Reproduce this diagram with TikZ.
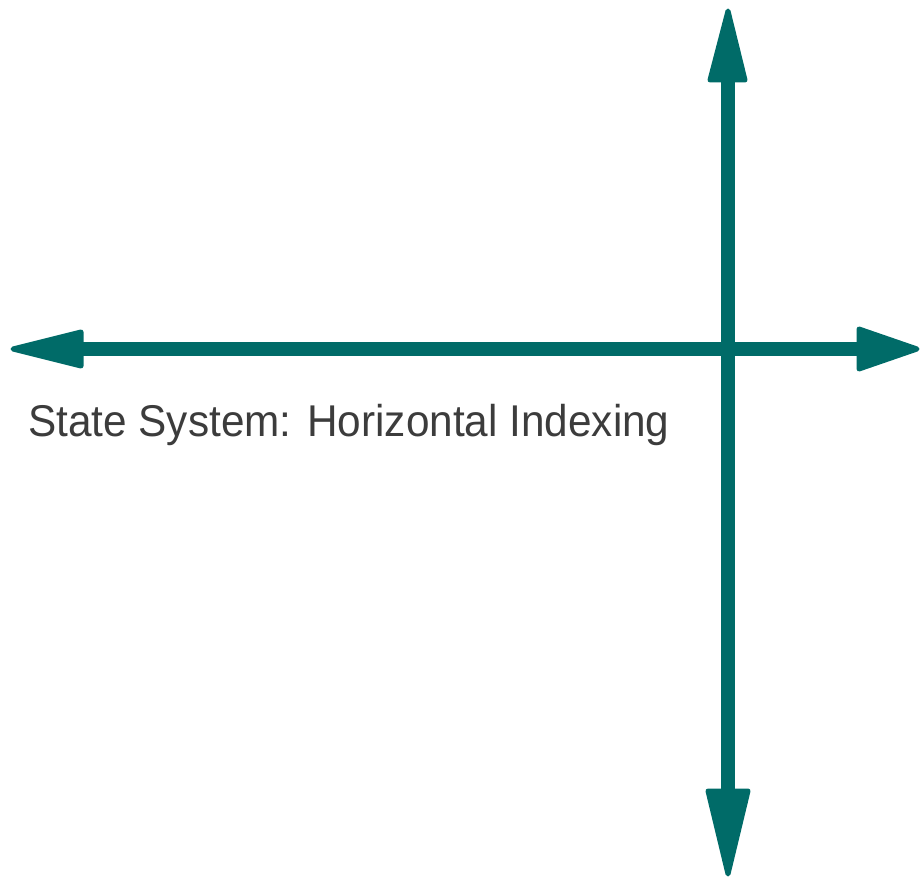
\documentclass[tikz,border=0pt]{standalone}
\usepackage{fontspec}
\setmainfont{Liberation Sans}
\definecolor{teal1}{HTML}{006B68}
\definecolor{txt}{HTML}{3C3C3C}
\begin{document}
\begin{tikzpicture}[x=1pt,y=-1pt,
  shaft/.style={draw=teal1,line width=14pt},
  head/.style={fill=teal1,draw=teal1,line width=5pt,line join=round},
  lbl/.style={font=\fontsize{44.5}{50}\selectfont,text=txt,inner sep=0pt,anchor=base west}]
\useasboundingbox (0,0) rectangle (921,877);
% named coordinates
\coordinate (L) at (13,349);
\coordinate (R) at (917,349);
\coordinate (T) at (728,11);
\coordinate (B) at (728,874);
\coordinate (Lb) at (81,349);
\coordinate (Rb) at (859,349);
\coordinate (Tb) at (728,80);
\coordinate (Bb) at (728,791);
% shafts
\draw[shaft] (Lb) -- (Rb);
\draw[shaft] (Tb) -- (Bb);
% heads
\draw[head] (L) -- (81,332) -- (81,366) -- cycle;
\draw[head] (R) -- (859,329) -- (859,369) -- cycle;
\draw[head] (T) -- (710,80) -- (745,80) -- cycle;
\draw[head] (B) -- (708,791) -- (748,791) -- cycle;
% label
\node[lbl] (label) at (28,436) {\scalebox{0.951}[1]{State System: Horizontal Indexing}};
\end{tikzpicture}
\end{document}
